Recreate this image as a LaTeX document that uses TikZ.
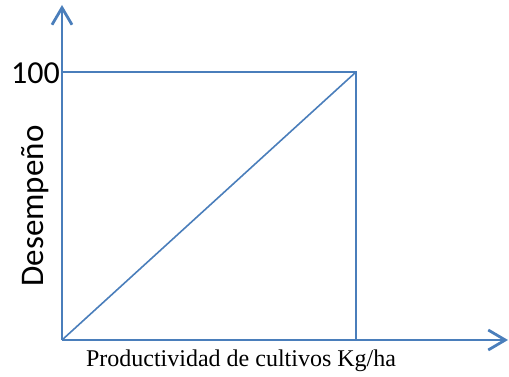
\documentclass[tikz,border=0pt]{standalone}
\usepackage{fontspec}
\setmainfont{Liberation Serif}
\newfontfamily\calfont{Carlito}
\usetikzlibrary{arrows.meta}
\definecolor{axisblue}{RGB}{74,126,187}
\begin{document}
\begin{tikzpicture}[x=1pt,y=1pt]
\useasboundingbox (0,0) rectangle (509,376);
% Axes
\coordinate (o) at (62,36);
\coordinate (ytop) at (62,371);
\coordinate (xend) at (508,36);
\draw[axisblue,line width=2.8pt,-{Straight Barb[length=17pt,width=20pt]}] (o) -- (ytop);
\draw[axisblue,line width=2.8pt,-{Straight Barb[length=17pt,width=20pt]}] (o) -- (xend);

% Square and diagonal
\coordinate (tl) at (62,304);
\coordinate (tr) at (356,304);
\coordinate (br) at (356,36);
\draw[axisblue,line width=1.8pt] (tl) -- (tr) -- (br);
\draw[axisblue,line width=1.6pt] (o) -- (tr);

% Labels
\node[anchor=east,font=\calfont\fontsize{32}{36}\selectfont,inner sep=1pt] (hundred) at (61,303) {100};
\node[rotate=90,font=\calfont\fontsize{33}{36}\selectfont,inner sep=0pt] (ylab) at (35,170) {Desempeño};
\node[font=\fontsize{24}{27}\selectfont,inner sep=0pt] (xlab) at (241,15) {Productividad de cultivos Kg/ha};
\end{tikzpicture}
\end{document}
